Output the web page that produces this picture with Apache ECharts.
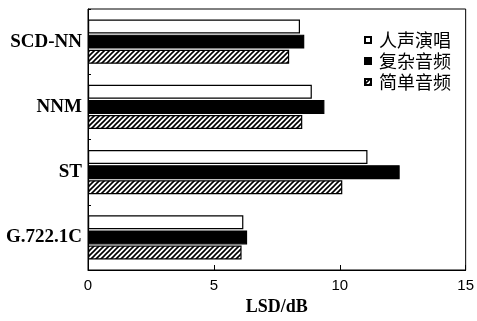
<!DOCTYPE html>
<html><head><meta charset="utf-8">
<script src="https://cdn.jsdelivr.net/npm/echarts@6/dist/echarts.min.js"></script>
<style>html,body{margin:0;padding:0;background:#fff}#c{width:477px;height:321px}</style>
</head><body><div id="c"></div>
<script>
const categories = ['G.722.1C', 'ST', 'NNM', 'SCD-NN'];
const vocal = [6.17, 11.1, 8.89, 8.42];     // 人声演唱
const complex = [6.32, 12.38, 9.39, 8.59];  // 复杂音频
const simple = [6.1, 10.1, 8.51, 7.99];     // 简单音频
const xTicks = [0, 5, 10, 15];

function hatch() {
  const s = 5;
  const c = document.createElement('canvas');
  c.width = s; c.height = s;
  const g = c.getContext('2d');
  g.fillStyle = '#fff'; g.fillRect(0, 0, s, s);
  g.strokeStyle = '#000'; g.lineWidth = 1.6;
  g.beginPath();
  g.moveTo(-1, s + 1); g.lineTo(s + 1, -1);
  g.moveTo(-1, 1); g.lineTo(1, -1);
  g.moveTo(s - 1, s + 1); g.lineTo(s + 1, s - 1);
  g.stroke();
  return c;
}

const chart = echarts.init(document.getElementById('c'));
const barCommon = { type: 'bar', barWidth: 14, barGap: '8%' };
chart.setOption({
  animation: false,
  grid: { left: 88, right: 8, top: 9, bottom: 43, show: true, borderColor: '#000', borderWidth: 1 },
  legend: {
    orient: 'vertical', left: 359, top: 26, icon: 'rect', itemWidth: 6, itemHeight: 6, itemGap: 3,
    textStyle: { fontFamily: 'Noto Sans CJK SC', fontSize: 18, color: '#000', padding: [0, 0, 0, 3] },
    data: ['人声演唱', '复杂音频', '简单音频']
  },
  xAxis: {
    type: 'value', min: xTicks[0], max: xTicks[xTicks.length - 1], interval: 5,
    name: 'LSD/dB', nameLocation: 'middle', nameGap: 28,
    nameTextStyle: { fontFamily: 'Liberation Serif', fontWeight: 'bold', fontSize: 18, color: '#000' },
    axisLine: { show: true, lineStyle: { color: '#000' } },
    axisTick: { show: true, inside: true, length: 5, lineStyle: { color: '#000' } },
    axisLabel: { fontFamily: 'Liberation Sans', fontSize: 15, color: '#000', margin: 8 },
    splitLine: { show: false }
  },
  yAxis: {
    type: 'category', data: categories,
    axisLine: { show: true, lineStyle: { color: '#000' } },
    axisTick: { show: true, inside: true, length: 3, lineStyle: { color: '#000' } },
    axisLabel: { fontFamily: 'Liberation Serif', fontWeight: 'bold', fontSize: 19, color: '#000', margin: 6 }
  },
  series: [
    Object.assign({ name: '人声演唱', data: vocal, itemStyle: { color: '#fff', borderColor: '#000', borderWidth: 1.2 } }, barCommon),
    Object.assign({ name: '复杂音频', data: complex, itemStyle: { color: '#000', borderColor: '#000', borderWidth: 1.2 } }, barCommon),
    Object.assign({ name: '简单音频', data: simple, itemStyle: { color: { image: hatch(), repeat: 'repeat' }, borderColor: '#000', borderWidth: 1.2 } }, barCommon)
  ]
});
</script></body></html>
